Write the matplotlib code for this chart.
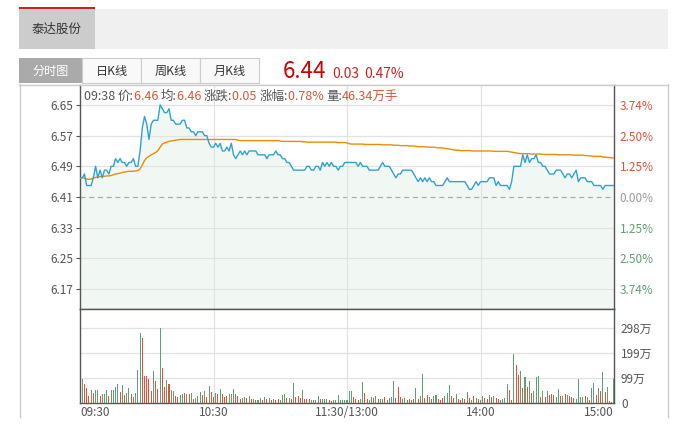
import matplotlib
matplotlib.use("Agg")
import matplotlib.pyplot as plt
from matplotlib.patches import Rectangle
import numpy as np

plt.rcParams['font.family'] = ['Noto Sans CJK SC', 'DejaVu Sans']

# ---------------- data ----------------
stock_name = "泰达股份"
tabs = ["分时图", "日K线", "周K线", "月K线"]
last_price = "6.44"
change_text = "0.03"
change_pct_text = "0.47%"
prev_close = 6.41

info_time = "09:38"
info_labels = ["价:", "均:", "涨跌:", "涨幅:", "量:"]
info_values = ["6.46", "6.46", "0.05", "0.78%", "46.34万手"]

price_ticks = [6.17, 6.25, 6.33, 6.41, 6.49, 6.57, 6.65]
pct_labels = ["3.74%", "2.50%", "1.25%", "0.00%", "1.25%", "2.50%", "3.74%"]
vol_ticks = [0, 99.3, 198.6, 297.9]
vol_tick_labels = ["0", "99万", "199万", "298万"]
time_tick_pos = [0, 60, 120, 180, 240]
time_tick_labels = ["09:30", "10:30", "11:30/13:00", "14:00", "15:00"]

# minute prices, 09:30 .. 15:00 (241 points)
price = [
    6.46, 6.46, 6.47, 6.44, 6.44, 6.44, 6.46, 6.49, 6.46, 6.48,
    6.46, 6.48, 6.48, 6.47, 6.49, 6.49, 6.51, 6.50, 6.51, 6.50,
    6.50, 6.49, 6.50, 6.50, 6.51, 6.49, 6.49, 6.53, 6.59, 6.62,
    6.60, 6.56, 6.60, 6.61, 6.61, 6.61, 6.65, 6.64, 6.63, 6.63,
    6.64, 6.61, 6.61, 6.60, 6.60, 6.60, 6.61, 6.61, 6.59, 6.59,
    6.58, 6.58, 6.57, 6.58, 6.58, 6.58, 6.57, 6.57, 6.55, 6.54,
    6.54, 6.55, 6.54, 6.55, 6.53, 6.53, 6.54, 6.53, 6.55, 6.52,
    6.51, 6.52, 6.53, 6.52, 6.53, 6.52, 6.53, 6.53, 6.53, 6.53,
    6.52, 6.52, 6.52, 6.52, 6.51, 6.52, 6.52, 6.52, 6.53, 6.52,
    6.52, 6.51, 6.51, 6.50, 6.50, 6.49, 6.48, 6.48, 6.48, 6.48,
    6.48, 6.48, 6.49, 6.49, 6.48, 6.48, 6.49, 6.49, 6.48, 6.50,
    6.49, 6.50, 6.49, 6.50, 6.49, 6.49, 6.48, 6.49, 6.49, 6.50,
    6.50,
    6.50, 6.50, 6.50, 6.50, 6.49, 6.50, 6.49, 6.49, 6.49, 6.48,
    6.48, 6.48, 6.48, 6.48, 6.49, 6.50, 6.49, 6.49, 6.49, 6.48,
    6.47, 6.46, 6.47, 6.47, 6.48, 6.48, 6.48, 6.48, 6.48, 6.47,
    6.46, 6.45, 6.46, 6.45, 6.46, 6.45, 6.46, 6.45, 6.45, 6.44,
    6.44, 6.44, 6.44, 6.45, 6.46, 6.45, 6.45, 6.45, 6.45, 6.45,
    6.45, 6.45, 6.45, 6.44, 6.43, 6.43, 6.44, 6.45, 6.44, 6.45,
    6.45, 6.45, 6.45, 6.46, 6.46, 6.46, 6.44, 6.45, 6.44, 6.44,
    6.44, 6.44, 6.43, 6.45, 6.49, 6.49, 6.49, 6.49, 6.52, 6.50,
    6.52, 6.50, 6.51, 6.51, 6.52, 6.50, 6.50, 6.49, 6.49, 6.48,
    6.47, 6.47, 6.47, 6.48, 6.48, 6.48, 6.47, 6.46, 6.47, 6.47,
    6.46, 6.47, 6.48, 6.45, 6.46, 6.46, 6.46, 6.45, 6.45, 6.45,
    6.44, 6.44, 6.44, 6.44, 6.43, 6.44, 6.44, 6.44, 6.44, 6.44,
]

# minute average price (241 points)
avg_price = [
    6.460, 6.460, 6.459, 6.457, 6.456, 6.457, 6.459, 6.461, 6.462, 6.463,
    6.464, 6.464, 6.465, 6.465, 6.466, 6.468, 6.470, 6.471, 6.472, 6.474,
    6.475, 6.476, 6.477, 6.477, 6.477, 6.478, 6.479, 6.483, 6.494, 6.505,
    6.512, 6.516, 6.520, 6.523, 6.526, 6.531, 6.540, 6.548, 6.551, 6.553,
    6.555, 6.556, 6.557, 6.558, 6.559, 6.560, 6.560, 6.560, 6.560, 6.560,
    6.560, 6.560, 6.560, 6.560, 6.560, 6.560, 6.560, 6.560, 6.560, 6.560,
    6.560, 6.560, 6.560, 6.560, 6.560, 6.560, 6.560, 6.560, 6.560, 6.560,
    6.560, 6.558, 6.557, 6.557, 6.557, 6.557, 6.557, 6.557, 6.557, 6.557,
    6.557, 6.557, 6.557, 6.557, 6.557, 6.557, 6.557, 6.557, 6.557, 6.557,
    6.556, 6.555, 6.555, 6.555, 6.555, 6.555, 6.555, 6.555, 6.555, 6.555,
    6.554, 6.554, 6.553, 6.553, 6.553, 6.553, 6.553, 6.553, 6.553, 6.553,
    6.553, 6.553, 6.553, 6.553, 6.553, 6.553, 6.552, 6.552, 6.552, 6.552,
    6.551,
    6.549, 6.548, 6.548, 6.548, 6.548, 6.548, 6.548, 6.547, 6.547, 6.547,
    6.547, 6.547, 6.547, 6.547, 6.547, 6.546, 6.546, 6.546, 6.546, 6.546,
    6.545, 6.545, 6.545, 6.544, 6.544, 6.544, 6.544, 6.543, 6.543, 6.543,
    6.542, 6.541, 6.541, 6.541, 6.541, 6.540, 6.540, 6.540, 6.540, 6.539,
    6.538, 6.538, 6.538, 6.537, 6.536, 6.535, 6.534, 6.533, 6.532, 6.532,
    6.531, 6.531, 6.531, 6.531, 6.531, 6.530, 6.530, 6.530, 6.530, 6.530,
    6.530, 6.530, 6.530, 6.530, 6.530, 6.529, 6.529, 6.529, 6.529, 6.529,
    6.529, 6.529, 6.528, 6.527, 6.526, 6.525, 6.524, 6.523, 6.523, 6.523,
    6.523, 6.523, 6.522, 6.522, 6.522, 6.522, 6.522, 6.521, 6.521, 6.521,
    6.521, 6.521, 6.521, 6.521, 6.520, 6.520, 6.520, 6.520, 6.520, 6.520,
    6.520, 6.519, 6.519, 6.519, 6.519, 6.519, 6.518, 6.518, 6.517, 6.517,
    6.516, 6.516, 6.516, 6.516, 6.514, 6.514, 6.513, 6.513, 6.512, 6.512,
]

# minute volume (万), minutes 1..240
volume = [
    95, 75, 59, 28, 51, 40, 51, 51, 28, 36,
    36, 51, 28, 51, 51, 65, 75, 44, 71, 32,
    40, 59, 36, 24, 40, 131, 277, 257, 107, 107,
    95, 48, 127, 87, 55, 297, 139, 63, 91, 75,
    51, 48, 28, 24, 32, 36, 40, 36, 36, 40,
    16, 20, 28, 44, 32, 48, 24, 67, 44, 24,
    40, 36, 55, 36, 24, 28, 36, 36, 55, 36,
    28, 16, 20, 24, 20, 28, 16, 16, 12, 12,
    20, 12, 24, 16, 20, 12, 16, 12, 16, 12,
    32, 36, 20, 20, 16, 79, 24, 28, 20, 51,
    16, 16, 16, 12, 12, 12, 28, 16, 16, 16,
    16, 12, 8, 12, 12, 32, 12, 12, 12, 12,
    48, 48, 24, 16, 12, 16, 83, 40, 16, 12,
    24, 20, 28, 16, 16, 16, 24, 12, 20, 24,
    87, 20, 62, 24, 16, 20, 12, 16, 12, 16,
    58, 16, 28, 115, 20, 32, 24, 16, 28, 32,
    16, 12, 20, 28, 40, 71, 28, 20, 36, 16,
    12, 20, 16, 44, 20, 12, 28, 20, 16, 12,
    28, 20, 16, 32, 24, 28, 20, 16, 12, 16,
    20, 75, 51, 12, 194, 150, 110, 127, 59, 102,
    63, 87, 41, 48, 104, 107, 24, 46, 25, 48,
    30, 36, 32, 25, 54, 28, 28, 37, 33, 29,
    22, 20, 16, 95, 24, 25, 29, 22, 12, 58,
    79, 30, 58, 48, 123, 44, 62, 7, 4, 94,
]
# bar colour per minute: r = red (up), g = green (down)
vol_dir_rows = [
    "grrrgrggrg", "ggrggggrgr", "ggrrgggrrr", "rrgrrgrrgr",
    "ggrrggrgrg", "rgggrgrgrr", "grgrrrgggr", "rrggrgrgrg",
    "grgrgrgrrg", "ggrgrgrrrg", "rrrggggrgg", "grrggggggg",
    "ggrrrggrrg", "grgrggrggg", "grrrggrrgr", "grggrrgrgg",
    "rrrgggrrgr", "rgrgrgrgrg", "grrgrgrrgg", "ggrrgrrgrg",
    "rgrgggrgrg", "rrrggrgrgr", "rrggggrgrg", "grgrgrgrrg",
]
vol_dir = list("".join(vol_dir_rows))

# ---------------- figure ----------------
W, H = 693, 438
fig = plt.figure(figsize=(W / 100, H / 100), dpi=100)

bg = fig.add_axes([0, 0, 1, 1])
bg.set_xlim(0, W)
bg.set_ylim(H, 0)
bg.axis('off')
bg.set_zorder(0)

# header band
bg.add_patch(Rectangle((19, 9), 649, 40, fc='#f0f0f0', ec='none'))
bg.add_patch(Rectangle((19, 9), 76, 40, fc='#cccccc', ec='none'))
bg.add_patch(Rectangle((19, 6.5), 76, 2.5, fc='#cc1f1f', ec='none'))
bg.text(57, 29.5, stock_name, ha='center', va='center', fontsize=9, color='#333333')

# tabs
tab_x = [19, 82, 141, 200, 259]
for i, t in enumerate(tabs):
    x0, x1 = tab_x[i], tab_x[i + 1]
    if i == 0:
        bg.add_patch(Rectangle((x0, 58), x1 - x0, 25, fc='#aaaaaa', ec='none'))
        col = 'white'
    else:
        bg.add_patch(Rectangle((x0, 58), x1 - x0, 25, fc='#f9f9f9', ec='#cccccc', lw=0.8))
        col = '#333333'
    bg.text((x0 + x1) / 2, 71, t, ha='center', va='center', fontsize=8.7, color=col)

bg.text(283, 78.5, last_price, ha='left', va='baseline', fontsize=16, color='#cc0000')
bg.text(332, 78.5, change_text, ha='left', va='baseline', fontsize=10, color='#cc2222')
bg.text(364, 78.5, change_pct_text, ha='left', va='baseline', fontsize=10, color='#cc2222')

# outer frame
bg.plot([19.5, 19.5], [84, 417], color='#cccccc', lw=1)
bg.plot([667.5, 667.5], [84, 417], color='#cccccc', lw=1)
bg.plot([19, 668], [84.5, 84.5], color='#cccccc', lw=1)

dark = '#555555'
grid_c = '#e2e2e2'
up_c = '#e0533a'
down_c = '#5f9f72'

# price axes
ax = fig.add_axes([80 / W, 1 - 309 / H, 534 / W, 224 / H])
ax.set_zorder(2)
x = np.arange(len(price))
span = 0.292
ax.set_xlim(0, 240)
ax.set_ylim(prev_close - span, prev_close + span)
ax.fill_between(x, price, prev_close - span, color='#f1f8f3', lw=0, zorder=1)
for t in price_ticks:
    if abs(t - prev_close) < 1e-6:
        ax.axhline(t, color='#aaaaaa', lw=0.9, ls=(0, (4, 3)), zorder=2)
    else:
        ax.axhline(t, color=grid_c, lw=0.9, zorder=2)
for t in time_tick_pos[1:-1]:
    ax.axvline(t, color=grid_c, lw=0.9, zorder=2)
ax.plot(x, avg_price, color='#f28a00', lw=1.0, zorder=4)
ax.plot(x, price, color='#2fa2d2', lw=1.0, zorder=5)
ax.set_yticks(price_ticks)
ax.set_yticklabels([f"{t:.2f}" for t in price_ticks])
ax.tick_params(axis='y', length=3, width=0.8, color=dark, labelcolor=dark, labelsize=8.5, pad=2)
ax.set_xticks([])
for s in ['left', 'right', 'bottom']:
    ax.spines[s].set_color(dark)
    ax.spines[s].set_linewidth(1)
ax.spines['top'].set_color('#cccccc')
ax.spines['top'].set_linewidth(1)

ax2 = ax.twinx()
ax2.set_ylim(ax.get_ylim())
ax2.set_yticks(price_ticks[::-1])
ax2.set_yticklabels(pct_labels)
ax2.tick_params(axis='y', length=0, labelsize=8.5, pad=4)
for lab, t in zip(ax2.get_yticklabels(), price_ticks[::-1]):
    if t > prev_close + 1e-6:
        lab.set_color(up_c)
    elif t < prev_close - 1e-6:
        lab.set_color(down_c)
    else:
        lab.set_color('#999999')
for s in ax2.spines.values():
    s.set_visible(False)

# info line
fs_info = 9
txt = ax.text(4 / 534, 1 - 11 / 224, info_time + " ", transform=ax.transAxes,
              ha='left', va='center', fontsize=fs_info, color=dark, zorder=6)
prev = txt
for i, (lab, val) in enumerate(zip(info_labels, info_values)):
    t1 = ax.annotate(lab, xy=(1, 0), xycoords=prev, ha='left', va='bottom',
                     fontsize=fs_info, color=dark, zorder=6)
    t2 = ax.annotate(val + (" " if i < len(info_labels) - 1 else ""), xy=(1, 0), xycoords=t1,
                     ha='left', va='bottom', fontsize=fs_info, color=up_c, zorder=6)
    prev = t2

# volume axes
vax = fig.add_axes([80 / W, 1 - 403 / H, 534 / W, 94 / H])
vax.set_zorder(2)
vx = np.arange(1, len(volume) + 1)
vcols = [up_c if c == 'r' else down_c for c in vol_dir]
vax.set_xlim(0, 240)
vax.set_ylim(0, 374)
for t in vol_ticks[1:]:
    vax.axhline(t, color=grid_c, lw=0.9, zorder=1)
for t in time_tick_pos[1:-1]:
    vax.axvline(t, color=grid_c, lw=0.9, zorder=1)
vax.bar(vx, volume, width=0.45, color=vcols, lw=0, zorder=3)
vax.set_yticks([])
vax.set_xticks(time_tick_pos)
vax.set_xticklabels(time_tick_labels)
vax.tick_params(axis='x', length=0, labelcolor=dark, labelsize=8.5, pad=2)
xl = vax.get_xticklabels()
xl[0].set_ha('left')
xl[-1].set_ha('right')
for s in ['left', 'right', 'bottom']:
    vax.spines[s].set_color(dark)
    vax.spines[s].set_linewidth(1)
vax.spines['top'].set_color(dark)
vax.spines['top'].set_linewidth(1)

vax2 = vax.twinx()
vax2.set_ylim(vax.get_ylim())
vax2.set_yticks(vol_ticks)
vax2.set_yticklabels(vol_tick_labels)
vax2.tick_params(axis='y', length=0, labelsize=8.5, labelcolor=dark, pad=5)
for s in vax2.spines.values():
    s.set_visible(False)

fig.savefig("out.png", dpi=100)
